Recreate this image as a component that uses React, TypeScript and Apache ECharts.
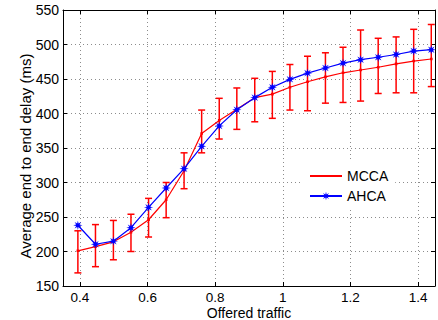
import React, { useEffect, useRef } from "react";
import * as echarts from "echarts";

const offeredTraffic = [0.394, 0.446, 0.499, 0.551, 0.603, 0.655, 0.708, 0.760, 0.812, 0.864, 0.917, 0.969, 1.021, 1.073, 1.126, 1.178, 1.230, 1.282, 1.335, 1.387, 1.439];
const mccaDelay = [201, 207, 214, 228, 246, 275, 317, 371, 390, 406, 423, 428, 438, 446, 453, 459, 463, 467, 472, 476, 479];
const mccaUpper = [230, 239, 245, 254, 277, 300, 343, 405, 422, 437, 451, 461, 471, 483, 488, 496, 521, 509, 511, 522, 529];
const mccaLower = [169, 178, 188, 200, 221, 249, 291, 343, 363, 377, 388, 393, 405, 404, 415, 416, 418, 429, 430, 430, 439];
const ahcaDelay = [238, 210.5, 215, 234.5, 264, 292, 320, 352.5, 382, 405.5, 423, 438, 449.5, 458.5, 466, 473, 478, 481.5, 485.5, 490.5, 492.5];
const seriesNames = ["MCCA", "AHCA"];
const xAxisTitle = "Offered traffic";
const yAxisTitle = "Average end to end delay (ms)";

const FONT = "'Liberation Sans', Arial, Helvetica, sans-serif";

// tiny corner specks widen the symbol's bounding box so the visible mark stays small
const CORNERS = "M0 0 L0.01 0 L0 0.01 Z M26 26 L25.99 26 L26 25.99 Z";

function starPath(): string {
  const pts: string[] = [];
  for (let i = 0; i < 16; i++) {
    const a = (i * Math.PI) / 8 - Math.PI / 2;
    const r = i % 2 === 0 ? 10 : 4;
    const px = (13 + r * Math.cos(a)).toFixed(2);
    const py = (13 + r * Math.sin(a)).toFixed(2);
    pts.push((i === 0 ? "M" : "L") + px + " " + py);
  }
  return "path://" + CORNERS + " " + pts.join(" ") + " Z";
}

function dotPath(): string {
  return "path://" + CORNERS + " M11 11 L15 11 L15 15 L11 15 Z";
}

export default function App() {
  const ref = useRef<HTMLDivElement>(null);
  useEffect(() => {
    if (!ref.current) return;
    const chart = echarts.init(ref.current, undefined, { renderer: "svg" });
    const gridLeft = 63, gridTop = 10, gridRight = 3, gridBottom = 34;
    const errData = offeredTraffic.map((x, i) => [x, mccaLower[i], mccaUpper[i]]);
    const red = "#ff0000";
    const blue = "#0000ff";
    const splitLine = { show: true, lineStyle: { color: "#8c8c8c", type: [1, 3] as any, width: 1 } };
    const axisLine = { show: true, onZero: false, lineStyle: { color: "#000", width: 1 } };
    const tick = { show: true, inside: true, length: 4, lineStyle: { color: "#000" } };
    chart.setOption({
      animation: false,
      backgroundColor: "#fff",
      grid: { left: gridLeft, top: gridTop, right: gridRight, bottom: gridBottom, containLabel: false },
      xAxis: [
        {
          type: "value", min: 0.35, max: 1.45, splitNumber: 5, position: "bottom",
          axisLine, axisTick: tick, splitLine,
          axisLabel: { show: true, showMinLabel: false, showMaxLabel: false, margin: 4, color: "#000", fontSize: 13.5, fontFamily: FONT },
        },
        {
          type: "value", min: 0.35, max: 1.45, splitNumber: 5, position: "top",
          axisLine, axisTick: tick, splitLine: { show: false }, axisLabel: { show: false },
        },
      ],
      yAxis: [
        {
          type: "value", min: 150, max: 550, interval: 50, position: "left",
          axisLine, axisTick: tick, splitLine,
          axisLabel: { show: true, margin: 4, color: "#000", fontSize: 14, fontFamily: FONT },
        },
        {
          type: "value", min: 150, max: 550, interval: 50, position: "right",
          axisLine, axisTick: tick, splitLine: { show: false }, axisLabel: { show: false },
        },
      ],
      legend: {
        data: seriesNames,
        orient: "vertical",
        left: 302,
        top: 160,
        padding: [9, 7, 7, 7],
        itemGap: 6,
        itemWidth: 32,
        itemHeight: 14,
        backgroundColor: "#fff",
        textStyle: { color: "#000", fontSize: 14, fontFamily: FONT },
      },
      graphic: [
        {
          type: "text", x: 249, y: 312.5,
          style: { text: xAxisTitle, fontSize: 14, fontFamily: FONT, fill: "#000", align: "center", verticalAlign: "middle" },
        },
        {
          type: "text", x: 25, y: 156, rotation: Math.PI / 2,
          style: { text: yAxisTitle, fontSize: 15, fontFamily: FONT, fill: "#000", align: "center", verticalAlign: "middle" },
        },
      ],
      series: [
        {
          type: "custom",
          name: "MCCA error",
          silent: true,
          xAxisIndex: 0, yAxisIndex: 0,
          encode: { x: 0, y: [1, 2] },
          data: errData,
          z: 2,
          renderItem: (params: any, api: any) => {
            const x = api.value(0);
            const pLo = api.coord([x, api.value(1)]);
            const pHi = api.coord([x, api.value(2)]);
            const w = 3.5;
            const st = { stroke: red, lineWidth: 1.5 };
            return {
              type: "group",
              children: [
                { type: "line", shape: { x1: pHi[0], y1: pHi[1], x2: pLo[0], y2: pLo[1] }, style: st },
                { type: "line", shape: { x1: pHi[0] - w, y1: pHi[1], x2: pHi[0] + w, y2: pHi[1] }, style: st },
                { type: "line", shape: { x1: pLo[0] - w, y1: pLo[1], x2: pLo[0] + w, y2: pLo[1] }, style: st },
              ],
            };
          },
        },
        {
          type: "line",
          name: "MCCA",
          xAxisIndex: 0, yAxisIndex: 0,
          data: offeredTraffic.map((x, i) => [x, mccaDelay[i]]),
          symbol: dotPath(),
          symbolSize: 17,
          showSymbol: true,
          lineStyle: { color: red, width: 1.2 },
          itemStyle: { color: red },
          z: 3,
        },
        {
          type: "line",
          name: "AHCA",
          xAxisIndex: 0, yAxisIndex: 0,
          data: offeredTraffic.map((x, i) => [x, ahcaDelay[i]]),
          symbol: starPath(),
          symbolSize: 12,
          showSymbol: true,
          lineStyle: { color: blue, width: 1.2 },
          itemStyle: { color: blue },
          z: 4,
        },
      ],
    });
    return () => chart.dispose();
  }, []);
  return <div ref={ref} style={{ position: "fixed", left: 0, top: 0, width: 438, height: 320 }} />;
}
